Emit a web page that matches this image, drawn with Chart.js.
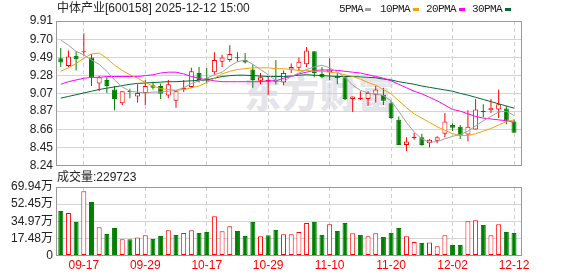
<!DOCTYPE html>
<html><head><meta charset="utf-8">
<script src="https://cdn.jsdelivr.net/npm/chart.js@4.4.1/dist/chart.umd.min.js"></script>
<style>
html,body{margin:0;padding:0;background:#fff;}
#wrap{position:relative;width:578px;height:276px;overflow:hidden;font-family:"Liberation Sans",Arial,"Noto Sans CJK SC",sans-serif;color:#222;}
canvas{position:absolute;left:0;}
.t{position:absolute;font-size:12px;line-height:14px;white-space:nowrap;}
.lg{position:absolute;top:2px;font-family:"Liberation Mono","DejaVu Sans Mono",monospace;font-size:11px;letter-spacing:-0.6px;line-height:14px;color:#222;}
.sw{position:absolute;top:8px;width:6px;height:3px;}
#wm{position:absolute;left:244px;top:74px;font-family:"Noto Sans CJK SC",sans-serif;font-weight:900;font-size:37px;line-height:37px;letter-spacing:1px;color:#e4e4ea;}
</style></head><body>
<div id="wrap">
<div id="wm">东方财富</div>
<canvas id="pc" width="578" height="176" style="top:0"></canvas>
<canvas id="vc" width="578" height="106" style="top:170px"></canvas>
<div class="t" style="left:57px;top:1px;">中体产业[600158] 2025-12-12 15:00</div>
<div class="lg" style="left:339px;">5PMA</div><div class="sw" style="left:365px;background:#a0a0a0"></div>
<div class="lg" style="left:380px;">10PMA</div><div class="sw" style="left:413px;background:#f5a300"></div>
<div class="lg" style="left:426px;">20PMA</div><div class="sw" style="left:459px;background:#ff00ff"></div>
<div class="lg" style="left:472px;">30PMA</div><div class="sw" style="left:505px;background:#006b2e"></div>
<div class="t" style="left:57px;top:170px;">成交量:229723</div>
</div>
<script>
const dates = ['09-12','09-15','09-16','09-17','09-18','09-19','09-22','09-23','09-24','09-25','09-26','09-29','09-30','10-09','10-10','10-13','10-14','10-15','10-16','10-17','10-20','10-21','10-22','10-23','10-24','10-27','10-28','10-29','10-30','10-31','11-03','11-04','11-05','11-06','11-07','11-10','11-11','11-12','11-13','11-14','11-17','11-18','11-19','11-20','11-21','11-24','11-25','11-26','11-27','11-28','12-01','12-02','12-03','12-04','12-05','12-08','12-09','12-10','12-11','12-12'];
const opens  = [9.48,9.39,9.51,9.55,9.49,9.19,9.23,9.12,8.96,9.10,9.04,9.08,9.17,9.16,9.05,8.99,9.12,9.15,9.31,9.25,9.32,9.44,9.46,9.49,9.46,9.35,9.22,9.21,9.23,9.20,9.35,9.37,9.41,9.56,9.30,9.32,9.28,9.26,9.01,9.01,9.01,9.06,9.06,8.96,8.77,8.48,8.56,8.57,8.50,8.53,8.61,8.71,8.69,8.60,8.66,8.87,8.88,8.89,8.90,8.75];
const highs  = [9.60,9.57,9.56,9.77,9.53,9.28,9.26,9.16,9.10,9.13,9.18,9.23,9.21,9.19,9.23,9.11,9.23,9.37,9.38,9.37,9.55,9.52,9.63,9.55,9.54,9.41,9.31,9.27,9.46,9.34,9.42,9.49,9.61,9.56,9.38,9.48,9.31,9.27,9.04,9.10,9.10,9.16,9.14,8.99,8.81,8.57,8.62,8.61,8.55,8.58,8.85,8.73,8.71,8.88,9.01,8.95,9.01,9.12,8.93,8.77];
const lows   = [9.38,9.38,9.34,9.51,9.16,9.10,9.08,8.88,8.94,9.02,8.97,8.94,9.12,9.01,9.02,8.91,9.09,9.14,9.20,9.19,9.29,9.38,9.44,9.44,9.42,9.14,9.18,9.06,9.18,9.17,9.31,9.33,9.38,9.26,9.25,9.23,9.18,9.00,8.86,9.00,8.93,8.97,8.94,8.78,8.48,8.41,8.54,8.47,8.45,8.50,8.57,8.64,8.55,8.52,8.66,8.80,8.85,8.79,8.72,8.62];
const closes = [9.43,9.50,9.47,9.56,9.26,9.26,9.16,9.01,9.10,9.09,9.08,9.16,9.14,9.07,9.18,9.10,9.14,9.33,9.23,9.23,9.46,9.49,9.53,9.48,9.43,9.23,9.26,9.23,9.21,9.31,9.38,9.44,9.57,9.31,9.26,9.35,9.25,9.01,9.04,9.02,9.08,9.12,8.99,8.79,8.48,8.52,8.57,8.48,8.54,8.57,8.75,8.68,8.59,8.69,8.89,8.86,8.91,8.95,8.76,8.62];
const ma5  = [9.69,9.63,9.56,9.52,9.46,9.41,9.33,9.23,9.15,9.10,9.09,9.08,9.09,9.09,9.10,9.11,9.14,9.19,9.22,9.25,9.29,9.32,9.39,9.44,9.46,9.41,9.35,9.29,9.22,9.21,9.27,9.31,9.35,9.38,9.40,9.37,9.32,9.26,9.17,9.11,9.08,9.07,9.05,8.99,8.87,8.74,8.63,8.55,8.51,8.52,8.55,8.58,8.60,8.64,8.70,8.76,8.81,8.86,8.87,8.82];
const ma10 = [9.33,9.37,9.42,9.48,9.53,9.54,9.48,9.40,9.34,9.29,9.25,9.20,9.16,9.13,9.12,9.11,9.12,9.14,9.16,9.20,9.25,9.30,9.33,9.35,9.36,9.37,9.37,9.37,9.36,9.36,9.35,9.34,9.34,9.33,9.33,9.32,9.31,9.29,9.27,9.24,9.20,9.17,9.12,9.07,8.99,8.91,8.84,8.79,8.74,8.69,8.65,8.61,8.59,8.59,8.61,8.64,8.67,8.71,8.75,8.77];
const ma20 = [9.18,9.21,9.23,9.25,9.26,9.26,9.27,9.27,9.27,9.27,9.27,9.28,9.29,9.31,9.32,9.32,9.30,9.27,9.25,9.23,9.22,9.21,9.21,9.21,9.21,9.21,9.21,9.22,9.22,9.25,9.27,9.30,9.32,9.34,9.345,9.345,9.34,9.33,9.32,9.31,9.29,9.27,9.25,9.22,9.18,9.14,9.10,9.07,9.03,8.99,8.94,8.89,8.87,8.84,8.81,8.79,8.78,8.77,8.76,8.74];
const ma30 = [9.02,9.04,9.06,9.08,9.10,9.12,9.135,9.15,9.165,9.18,9.19,9.195,9.20,9.205,9.21,9.21,9.215,9.22,9.225,9.23,9.25,9.27,9.28,9.285,9.285,9.28,9.275,9.27,9.27,9.27,9.275,9.285,9.29,9.285,9.28,9.275,9.27,9.27,9.27,9.265,9.26,9.255,9.24,9.23,9.21,9.195,9.18,9.16,9.145,9.13,9.115,9.10,9.075,9.055,9.03,9.005,8.98,8.955,8.93,8.905];
const volumes = [454000,434000,342000,655000,546000,288000,219000,281000,165000,165000,185000,206000,168000,199000,257000,209000,230000,257000,230000,240000,400000,247000,298000,250000,199000,342000,196000,206000,260000,216000,216000,240000,332000,342000,209000,318000,250000,332000,226000,209000,196000,226000,189000,230000,281000,196000,138000,128000,134000,94000,206000,107000,107000,349000,359000,311000,206000,318000,240000,229723];
const volRise = [0,1,0,1,0,1,0,0,1,0,1,1,0,0,1,0,1,1,0,0,1,1,1,0,0,0,1,0,0,1,1,1,1,0,0,1,0,0,1,0,1,1,0,0,0,1,1,0,1,1,1,0,0,1,1,0,1,1,0,0];
const xTickDates = ['09-17','09-29','10-17','10-29','11-10','11-20','12-02','12-12'];
const priceTicks = [8.24,8.45,8.66,8.87,9.07,9.28,9.49,9.70,9.91];
const priceTickLabels = ['8.24','8.45','8.66','8.87','9.07','9.28','9.49','9.70','9.91'];
const volTicks = [0,174850,349700,524550,699400];
const volTickLabels = ['0','17.48万','34.97万','52.45万','69.94万'];

const RED = '#ff0000', GREEN = '#008000';
const X_MIN = -0.62, X_MAX = 60.04;
const tickIdx = xTickDates.map(d => dates.indexOf(d));
const rise = closes.map((c, i) => c >= opens[i]);
const FONT = {family: '"Liberation Sans", Arial, "Noto Sans CJK SC", sans-serif', size: 12};

const frame = {id: 'frame', afterDraw(c) {
  const {ctx, chartArea: a} = c;
  ctx.save(); ctx.strokeStyle = '#999'; ctx.lineWidth = 1;
  ctx.strokeRect(Math.round(a.left) + 0.5, Math.round(a.top) + 0.5, Math.round(a.right - a.left) - 1, Math.round(a.bottom - a.top) - 1);
  ctx.restore();
}};

function xScale(showLabels) {
  return {
    type: 'linear', min: X_MIN, max: X_MAX, offset: false,
    grid: {offset: false, color: '#cfcfcf', drawTicks: false, lineWidth: 1},
    border: {display: false, dash: [4, 3]},
    afterBuildTicks: s => { s.ticks = tickIdx.map(v => ({value: v})); },
    afterFit: s => { s.height = showLabels ? 20.5 : 0; },
    ticks: {display: showLabels, autoSkip: false, maxRotation: 0, padding: 3, color: RED, font: FONT,
      callback: v => dates[v]}
  };
}

Chart.defaults.animation = false;

new Chart(document.getElementById('pc'), {
  type: 'bar',
  data: {datasets: [
    {type: 'line', label: 'MA5', data: ma5.map((v, i) => ({x: i, y: v})), borderColor: '#a0a0a0', borderWidth: 1, pointRadius: 0, order: 0},
    {type: 'line', label: 'MA10', data: ma10.map((v, i) => ({x: i, y: v})), borderColor: '#f5a300', borderWidth: 1, pointRadius: 0, order: 0},
    {type: 'line', label: 'MA20', data: ma20.map((v, i) => ({x: i, y: v})), borderColor: '#ff00ff', borderWidth: 1, pointRadius: 0, order: 0},
    {type: 'line', label: 'MA30', data: ma30.map((v, i) => ({x: i, y: v})), borderColor: '#006b2e', borderWidth: 1, pointRadius: 0, order: 0},
    {label: 'body', data: opens.map((o, i) => ({x: i, y: [o, closes[i]]})), grouped: false,
      backgroundColor: rise.map(r => r ? '#ffffff' : GREEN), borderColor: rise.map(r => r ? RED : GREEN),
      borderWidth: 1, borderSkipped: false, barThickness: 5, minBarLength: 1, inflateAmount: 0, order: 2},
    {label: 'wick', data: lows.map((l, i) => ({x: i, y: [l, highs[i]]})), grouped: false,
      backgroundColor: rise.map(r => r ? RED : GREEN), borderWidth: 0, barThickness: 1, inflateAmount: 0, order: 3}
  ]},
  options: {
    responsive: false, animation: false,
    layout: {padding: {left: 0, top: 21, right: 56, bottom: 10}},
    plugins: {legend: {display: false}, tooltip: {enabled: false}},
    scales: {
      x: xScale(false),
      y: {type: 'linear', min: 8.24, max: 9.91, beginAtZero: false,
        grid: {color: '#d4d4d4', drawTicks: false}, border: {display: false},
        afterBuildTicks: s => { s.ticks = priceTicks.map(v => ({value: v})); },
        afterFit: s => { s.width = 56; },
        ticks: {autoSkip: false, padding: 3, color: '#222', font: FONT, callback: (v, i) => priceTickLabels[i]}}
    }
  },
  plugins: [frame]
});

new Chart(document.getElementById('vc'), {
  type: 'bar',
  data: {datasets: [
    {label: 'vol', data: volumes.map((v, i) => ({x: i, y: v})), grouped: false,
      backgroundColor: volRise.map(r => r ? '#ffffff' : GREEN), borderColor: volRise.map(r => r ? RED : GREEN),
      borderWidth: 1, borderSkipped: false, barThickness: 5, inflateAmount: 0}
  ]},
  options: {
    responsive: false, animation: false,
    layout: {padding: {left: 0, top: 17, right: 56, bottom: 0}},
    plugins: {legend: {display: false}, tooltip: {enabled: false}},
    scales: {
      x: xScale(true),
      y: {type: 'linear', min: 0, max: 699400,
        grid: {color: '#d4d4d4', drawTicks: false}, border: {display: false},
        afterBuildTicks: s => { s.ticks = volTicks.map(v => ({value: v})); },
        afterFit: s => { s.width = 56; },
        ticks: {autoSkip: false, padding: 3, color: '#222', font: FONT, callback: (v, i) => volTickLabels[i]}}
    }
  },
  plugins: [frame]
});
</script>
</body></html>
